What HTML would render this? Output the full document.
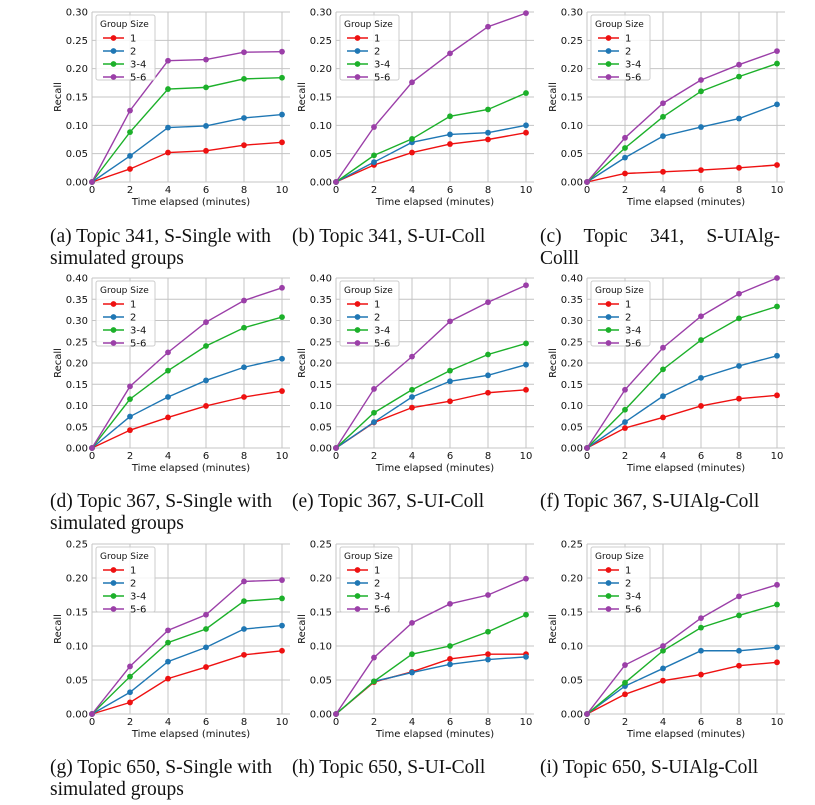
<!DOCTYPE html>
<html><head><meta charset="utf-8"><style>
body{margin:0;background:#fff;width:815px;height:805px;overflow:hidden}
svg{position:absolute;left:0;top:0}
.cap{position:absolute;font-family:"Liberation Serif",serif;font-size:19.5px;color:#111;line-height:22px;white-space:nowrap}
</style></head><body>
<svg id="chart" width="815" height="805"></svg>
<div class="cap" style="left:50px;top:226px">(a) Topic 341, S-Single with<br>simulated groups</div>
<div class="cap" style="left:292px;top:226px">(b) Topic 341, S-UI-Coll</div>
<div class="cap" style="left:540px;top:226px;width:240px;text-align:justify;text-align-last:justify;white-space:normal">(c) Topic 341, S-UIAlg-</div>
<div class="cap" style="left:540px;top:248px">Colll</div>
<div class="cap" style="left:50px;top:491px">(d) Topic 367, S-Single with<br>simulated groups</div>
<div class="cap" style="left:292px;top:491px">(e) Topic 367, S-UI-Coll</div>
<div class="cap" style="left:540px;top:491px">(f) Topic 367, S-UIAlg-Coll</div>
<div class="cap" style="left:50px;top:757px">(g) Topic 650, S-Single with<br>simulated groups</div>
<div class="cap" style="left:292px;top:757px">(h) Topic 650, S-UI-Coll</div>
<div class="cap" style="left:540px;top:757px">(i) Topic 650, S-UIAlg-Coll</div>
<script>
const categories=[0,2,4,6,8,10];
const seriesNames=["1","2","3-4","5-6"];
const seriesColors=["#ee1111","#1f77b4","#1cb02a","#9b3fa8"];
const yMaxes=[0.30,0.30,0.30,0.40,0.40,0.40,0.25,0.25,0.25];
const yTickSteps=[0.05,0.05,0.05,0.05,0.05,0.05,0.05,0.05,0.05];
const a1=[0,.023,.052,.055,.065,.070],a2=[0,.046,.096,.099,.113,.119],a3=[0,.088,.164,.167,.182,.184],a4=[0,.126,.214,.216,.229,.230];
const b1=[0,.030,.052,.067,.075,.087],b2=[0,.035,.070,.084,.087,.100],b3=[0,.047,.076,.116,.128,.157],b4=[0,.097,.176,.227,.274,.298];
const c1=[0,.015,.018,.021,.025,.030],c2=[0,.043,.081,.097,.112,.137],c3=[0,.060,.115,.160,.186,.209],c4=[0,.078,.139,.180,.207,.231];
const d1=[0,.042,.072,.099,.120,.134],d2=[0,.074,.120,.159,.190,.210],d3=[0,.115,.182,.240,.283,.308],d4=[0,.145,.225,.296,.347,.377];
const e1=[0,.060,.095,.110,.130,.137],e2=[0,.061,.120,.157,.171,.196],e3=[0,.083,.137,.182,.220,.246],e4=[0,.139,.215,.298,.343,.383];
const f1=[0,.047,.072,.099,.116,.124],f2=[0,.061,.122,.165,.193,.217],f3=[0,.090,.185,.254,.305,.333],f4=[0,.137,.236,.310,.363,.400];
const g1=[0,.017,.052,.069,.087,.093],g2=[0,.032,.077,.098,.125,.130],g3=[0,.055,.105,.125,.166,.170],g4=[0,.070,.123,.146,.195,.197];
const h1=[0,.047,.062,.081,.088,.088],h2=[0,.048,.061,.073,.080,.084],h3=[0,.048,.088,.100,.121,.146],h4=[0,.083,.134,.162,.175,.199];
const i1=[0,.029,.049,.058,.071,.076],i2=[0,.041,.067,.093,.093,.098],i3=[0,.046,.093,.127,.145,.161],i4=[0,.072,.100,.141,.173,.190];
const panelSeries=[[a1,a2,a3,a4],[b1,b2,b3,b4],[c1,c2,c3,c4],[d1,d2,d3,d4],[e1,e2,e3,e4],[f1,f2,f3,f4],[g1,g2,g3,g4],[h1,h2,h3,h4],[i1,i2,i3,i4]];
const panelLetters="abcdefghi";

const NS="http://www.w3.org/2000/svg";
const svg=document.getElementById("chart");
function mk(tag,attrs,parent){const e=document.createElementNS(NS,tag);for(const k in attrs)e.setAttribute(k,attrs[k]);(parent||svg).appendChild(e);return e;}
const colX=[92,336,587], rowTop=[12,278,544], H=170, unit=19;
const FONT='"DejaVu Sans","Liberation Sans",sans-serif';
panelSeries.forEach((ser,p)=>{
  const x0=colX[p%3], top=rowTop[Math.floor(p/3)], bot=top+H, ymax=yMaxes[p];
  const g=mk("g",{});
  
  
  const xs=v=>x0+v*unit, ys=v=>bot-v/ymax*H;
  const right=xs(10)+8;
  for(let v=0;v<=ymax+1e-9;v+=yTickSteps[p]){
    const y=ys(v);
    const gl=mk("line",{x1:x0,x2:right,y1:y,y2:y,stroke:"#c4c4c4","stroke-width":1},g);
    
    
    const t=mk("text",{x:x0-4,y:y+3.5,"text-anchor":"end","font-size":10,fill:"#111","font-family":FONT},g);
    t.textContent=v.toFixed(2);
    
    
  }
  categories.forEach(c=>{
    const x=xs(c);
    const gl=mk("line",{x1:x,x2:x,y1:top,y2:bot,stroke:"#c4c4c4","stroke-width":1},g);
    
    
    const t=mk("text",{x:x,y:bot+11,"text-anchor":"middle","font-size":10,fill:"#111","font-family":FONT},g);
    t.textContent=c;
    
    
  });
  const xl=mk("text",{x:(x0+right)/2,y:bot+23,"text-anchor":"middle","font-size":10,fill:"#111","font-family":FONT},g);
  xl.textContent="Time elapsed (minutes)";
  
  
  const yl=mk("text",{x:0,y:0,"text-anchor":"middle","font-size":10,fill:"#111","font-family":FONT,transform:`translate(${x0-31},${top+H/2}) rotate(-90)`},g);
  yl.textContent="Recall";
  
  
  ser.forEach((vals,s)=>{
    const pts=vals.map((v,k)=>xs(categories[k])+","+ys(v)).join(" ");
    const pl=mk("polyline",{points:pts,fill:"none",stroke:seriesColors[s],"stroke-width":1.4},g);
    
    
    vals.forEach((v,k)=>{
      const c=mk("circle",{cx:xs(categories[k]),cy:ys(v),r:2.9,fill:seriesColors[s]},g);
      
      
    });
  });
  const lg=mk("g",{},g);
  
  
  mk("rect",{x:x0+4,y:top+3,width:59,height:65,fill:"#fff","fill-opacity":0.85,stroke:"#cccccc",rx:2},lg);
  const lt=mk("text",{x:x0+8,y:top+15,"font-size":9,fill:"#111","font-family":FONT},lg);
  lt.textContent="Group Size";
  
  
  seriesNames.forEach((n,s)=>{
    const y=top+26+s*13;
    const e=mk("g",{},lg);
    
    
    mk("line",{x1:x0+11,x2:x0+32,y1:y,y2:y,stroke:seriesColors[s],"stroke-width":1.4},e);
    mk("circle",{cx:x0+21.5,cy:y,r:2.9,fill:seriesColors[s]},e);
    const t=mk("text",{x:x0+38,y:y+3.5,"font-size":10,fill:"#111","font-family":FONT},e);
    t.textContent=n;
  });
});
</script>
</body></html>
